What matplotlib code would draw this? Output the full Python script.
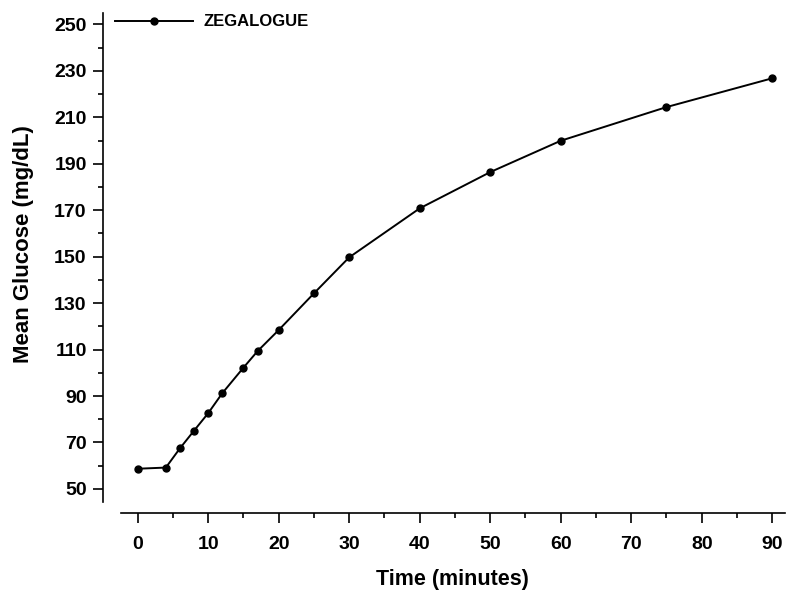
import matplotlib
matplotlib.use('Agg')
import matplotlib.pyplot as plt
from matplotlib.ticker import MultipleLocator

plt.rcParams['font.family'] = ['Liberation Sans', 'DejaVu Sans']
plt.rcParams['font.weight'] = 'bold'

# data
time_min = [0, 4, 6, 8, 10, 12, 15, 17, 20, 25, 30, 40, 50, 60, 75, 90]
glucose = [58.7, 59.2, 67.5, 75.1, 82.6, 91.2, 102.2, 109.3, 118.4, 134.2,
           149.7, 170.8, 186.4, 199.9, 214.4, 226.8]
series_name = 'ZEGALOGUE'

fig = plt.figure(figsize=(7.86, 5.92), dpi=100)
ax = fig.add_axes([0.1536, 0.1525, 0.845, 0.8255])

ax.plot(time_min, glucose, color='black', lw=1.4, marker='o', ms=5,
        label=series_name)

ax.set_xlim(-2.4, 91.8)
ax.set_ylim(44.5, 254.9)
ax.xaxis.set_major_locator(MultipleLocator(10))
ax.xaxis.set_minor_locator(MultipleLocator(5))
ax.yaxis.set_minor_locator(MultipleLocator(10))
ax.set_yticks(range(50, 251, 20))

for s in ['top', 'right']:
    ax.spines[s].set_visible(False)
ax.spines['left'].set_position(('outward', 12.5))
ax.spines['bottom'].set_position(('outward', 8))
ax.spines['left'].set_linewidth(1.2)
ax.spines['bottom'].set_linewidth(1.2)

ax.tick_params(which='major', length=7, width=1.2, labelsize=14)
ax.tick_params(which='minor', length=3.5, width=1.2)
ax.tick_params(axis='x', which='major', pad=10)
ax.tick_params(axis='y', which='major', pad=5)

ax.set_xlabel('Time (minutes)', fontsize=15.5, fontweight='bold', labelpad=11)
ax.set_ylabel('Mean Glucose (mg/dL)', fontsize=16, fontweight='bold')
ax.yaxis.set_label_coords(-0.131, 0.527)

ax.legend(loc='upper left', bbox_to_anchor=(-0.0086, 0.997), frameon=False,
          borderpad=0, borderaxespad=0, handlelength=4.7, handletextpad=0.6,
          prop={'size': 12, 'weight': 'bold'})

fig.savefig('out.png', dpi=100)
